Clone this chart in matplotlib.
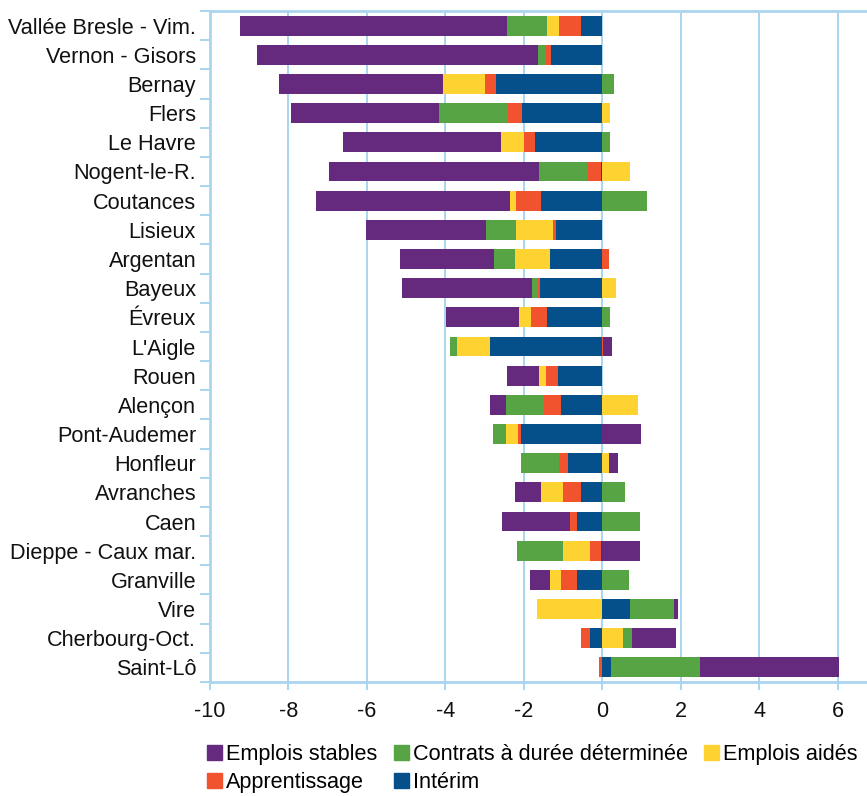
import matplotlib
matplotlib.use("Agg")
import matplotlib.pyplot as plt
import numpy as np
from matplotlib.patches import Patch

categories = ["Vallée Bresle - Vim.", "Vernon - Gisors", "Bernay", "Flers", "Le Havre",
              "Nogent-le-R.", "Coutances", "Lisieux", "Argentan", "Bayeux", "Évreux",
              "L'Aigle", "Rouen", "Alençon", "Pont-Audemer", "Honfleur", "Avranches",
              "Caen", "Dieppe - Caux mar.", "Granville", "Vire", "Cherbourg-Oct.", "Saint-Lô"]

interim = [-0.53, -1.31, -2.71, -2.05, -1.72, -0.04, -1.57, -1.19, -1.34, -1.59, -1.42,
           -2.87, -1.14, -1.06, -2.07, -0.88, -0.55, -0.65, -0.02, -0.65, 0.70, -0.32, 0.23]
apprentissage = [-0.58, -0.13, -0.28, -0.34, -0.28, -0.33, -0.64, -0.07, 0.16, -0.06, -0.40,
                 0.03, -0.30, -0.42, -0.08, -0.21, -0.46, -0.16, -0.28, -0.41, 0.0, -0.21, -0.09]
aides = [-0.31, 0.0, -1.07, 0.21, -0.59, 0.72, -0.15, -0.95, -0.89, 0.34, -0.31,
         -0.84, -0.18, 0.90, -0.31, 0.16, -0.56, 0.0, -0.71, -0.28, -1.67, 0.54, 0.0]
cdd = [-1.01, -0.21, 0.29, -1.77, 0.21, -1.25, 1.15, -0.76, -0.54, -0.15, 0.19,
       -0.18, 0.0, -0.98, -0.33, -0.99, 0.59, 0.95, -1.17, 0.67, 1.12, 0.23, 2.27]
stables = [-6.80, -7.15, -4.18, -3.77, -4.02, -5.34, -4.93, -3.05, -2.39, -3.31, -1.86,
           0.23, -0.81, -0.41, 0.98, 0.23, -0.66, -1.75, 0.95, -0.51, 0.10, 1.12, 3.54]

series_names = ["Emplois stables", "Contrats à durée déterminée", "Emplois aidés",
                "Apprentissage", "Intérim"]
colors = {"Emplois stables": "#652A7E", "Contrats à durée déterminée": "#57A444",
          "Emplois aidés": "#FDD231", "Apprentissage": "#F0532E", "Intérim": "#054F8A"}

# stacking order from zero outward
stack_order = [("Intérim", interim), ("Apprentissage", apprentissage),
               ("Emplois aidés", aides), ("Contrats à durée déterminée", cdd),
               ("Emplois stables", stables)]

plt.rcParams['font.family'] = ['Liberation Sans', 'DejaVu Sans']
grid_col = "#A9D5EF"

fig = plt.figure(figsize=(8.67, 7.96), dpi=100)
ax = fig.add_axes([210/867, 1-682/796, 1-210/867, (682-11)/796])

y = np.arange(len(categories))
pos = np.zeros(len(categories))
neg = np.zeros(len(categories))
for name, vals in stack_order:
    v = np.array(vals, dtype=float)
    left = np.where(v >= 0, pos, neg)
    ax.barh(y, v, left=left, height=0.68, color=colors[name], linewidth=0, zorder=3)
    pos = pos + np.where(v > 0, v, 0)
    neg = neg + np.where(v < 0, v, 0)

ax.set_xlim(-10, 6.75)
ax.set_ylim(len(categories) - 0.5, -0.5)
ax.set_xticks(np.arange(-10, 7, 2))
ax.set_xticklabels([str(t) for t in range(-10, 7, 2)])
ax.set_yticks(y)
ax.set_yticklabels(categories)
ax.set_yticks(np.arange(-0.5, len(categories), 1), minor=True)

ax.grid(axis="x", color=grid_col, linewidth=1.4, zorder=0)
ax.set_axisbelow(True)
for s in ["left", "bottom", "top"]:
    ax.spines[s].set_color(grid_col)
    ax.spines[s].set_linewidth(2.0)
ax.spines["right"].set_visible(False)

ax.tick_params(axis="y", which="major", length=0, pad=10, labelsize=15.6, labelcolor="#111111")
ax.tick_params(axis="y", which="minor", length=7.5, width=1.4, color=grid_col)
ax.tick_params(axis="x", which="major", length=6, width=1.4, color=grid_col, pad=8,
               labelsize=15.6, labelcolor="#111111")

handles = [Patch(color=colors[n]) for n in series_names]
order = [0, 3, 1, 4, 2]
leg = fig.legend([handles[i] for i in order], [series_names[i] for i in order],
                 loc="upper left", bbox_to_anchor=(207/867, 1-744/796), ncol=3,
                 frameon=False, fontsize=15.6, handlelength=0.7, handleheight=0.7,
                 handletextpad=0.18, columnspacing=0.75, labelspacing=0.33,
                 borderpad=0, borderaxespad=0)

fig.savefig("out.png", dpi=100)
